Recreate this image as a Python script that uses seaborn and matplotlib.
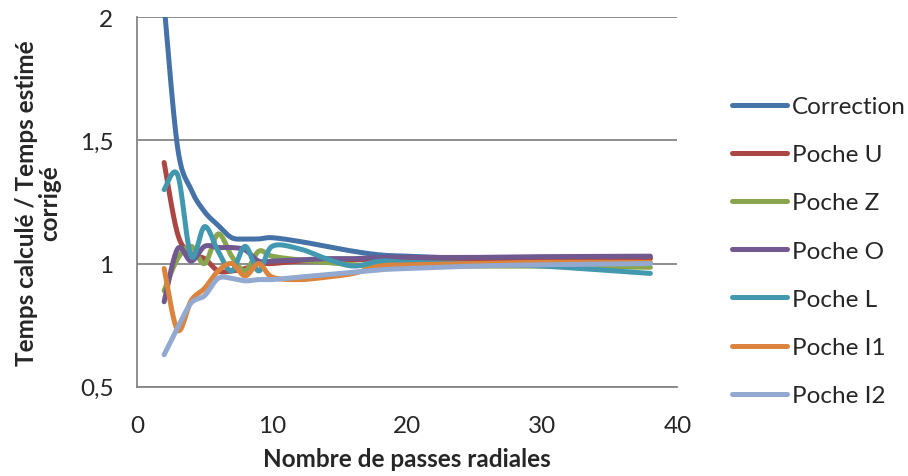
import numpy as np
import pandas as pd
import matplotlib
matplotlib.use("Agg")
import matplotlib.pyplot as plt
from matplotlib.ticker import MultipleLocator, FuncFormatter
import seaborn as sns

# --- Donnees ---
passes = [2, 3, 4, 5, 6, 7, 8, 9, 10, 12, 14, 16, 18, 20, 25, 30, 38]

correction = [2.05, 1.47, 1.30, 1.21, 1.155, 1.105, 1.10, 1.10, 1.105, 1.09, 1.07, 1.05, 1.035, 1.03, 1.02, 1.02, 1.025]
poche_u = [1.41, 1.12, 1.04, 1.02, 0.97, 0.97, 0.98, 1.0, 1.0, 1.01, 1.01, 1.015, 1.02, 1.02, 1.02, 1.02, 1.02]
poche_z = [0.89, 1.02, 1.07, 1.0, 1.12, 1.03, 0.97, 1.05, 1.03, 1.015, 1.005, 0.995, 0.99, 0.99, 0.99, 0.99, 0.985]
poche_o = [0.845, 1.06, 1.01, 1.07, 1.065, 1.065, 1.055, 1.01, 1.01, 1.015, 1.02, 1.02, 1.025, 1.025, 1.025, 1.028, 1.03]
poche_l = [1.30, 1.36, 1.03, 1.15, 1.05, 0.97, 1.07, 0.97, 1.07, 1.06, 1.02, 0.99, 1.01, 1.005, 1.0, 0.99, 0.96]
poche_i1 = [0.98, 0.73, 0.85, 0.90, 0.97, 1.0, 0.95, 1.0, 0.945, 0.935, 0.945, 0.96, 0.99, 0.995, 1.0, 1.005, 1.005]
poche_i2 = [0.63, 0.74, 0.84, 0.87, 0.94, 0.94, 0.93, 0.935, 0.935, 0.945, 0.955, 0.965, 0.975, 0.98, 0.99, 0.995, 1.0]

series = ["Correction", "Poche U", "Poche Z", "Poche O", "Poche L", "Poche I1", "Poche I2"]
valeurs = [correction, poche_u, poche_z, poche_o, poche_l, poche_i1, poche_i2]
couleurs = ["#4572A7", "#AA4643", "#89A54E", "#71588F", "#4198AF", "#DB843D", "#93A9CF"]


def lissage(x, y, n=25):
    """Courbe lissee facon Excel (Bezier / Catmull-Rom) passant par les points."""
    p = np.column_stack([x, y]).astype(float)
    p_ext = np.vstack([p[0], p, p[-1]])
    out = []
    for i in range(len(p) - 1):
        p0, p1, p2, p3 = p_ext[i], p_ext[i + 1], p_ext[i + 2], p_ext[i + 3]
        c1 = p1 + (p2 - p0) / 6
        c2 = p2 - (p3 - p1) / 6
        t = np.linspace(0, 1, n, endpoint=(i == len(p) - 2))[:, None]
        out.append((1 - t) ** 3 * p1 + 3 * (1 - t) ** 2 * t * c1 + 3 * (1 - t) * t ** 2 * c2 + t ** 3 * p2)
    return np.vstack(out)


frames = []
for nom, val in zip(series, valeurs):
    c = lissage(passes, val)
    frames.append(pd.DataFrame({"passes": c[:, 0], "ratio": c[:, 1], "serie": nom}))
df = pd.concat(frames, ignore_index=True)

sns.set_style("white")
plt.rcParams["font.family"] = ["Lato", "DejaVu Sans"]
fs = 17.5

fig = plt.figure(figsize=(9.08, 4.77), dpi=100)
ax = fig.add_axes([0.151, 0.187, 0.595, 0.775])

sns.lineplot(data=df, x="passes", y="ratio", hue="serie", hue_order=series,
             palette=couleurs, sort=False, estimator=None, linewidth=3.6,
             ax=ax, zorder=3)

ax.set_xlim(0, 40)
ax.set_ylim(0.5, 2)
ax.xaxis.set_major_locator(MultipleLocator(10))
ax.yaxis.set_major_locator(MultipleLocator(0.5))
ax.yaxis.set_minor_locator(MultipleLocator(0.1))
ax.yaxis.set_major_formatter(FuncFormatter(lambda v, p: f"{v:g}".replace(".", ",")))

gris = "#868686"
ax.grid(axis="y", which="major", color=gris, linewidth=1.3)
ax.set_axisbelow(True)
for s in ["top", "right"]:
    ax.spines[s].set_visible(False)
for s in ["left", "bottom"]:
    ax.spines[s].set_color(gris)
    ax.spines[s].set_linewidth(1.3)

ax.tick_params(axis="y", which="major", direction="out", length=6, width=1.3, color=gris, pad=11, labelsize=fs)
ax.tick_params(axis="y", which="minor", direction="inout", length=5, width=1.3, color=gris)
ax.tick_params(axis="x", length=0, pad=20, labelsize=fs)

ax.set_xlabel("Nombre de passes radiales", fontweight="bold", fontsize=fs, labelpad=8)
ax.set_ylabel("Temps calculé / Temps estimé\ncorrigé", fontweight="bold", fontsize=fs,
              multialignment="center", linespacing=1.0, ha="center", va="center")
ax.yaxis.set_label_coords(-0.183, 0.5)

leg = ax.legend(loc="upper left", bbox_to_anchor=(732 / 908, 1 - 97 / 477),
                bbox_transform=fig.transFigure, frameon=False, borderpad=0, borderaxespad=0,
                handlelength=2.26, handletextpad=0.2, labelspacing=1.12, fontsize=fs)
for h in leg.get_lines():
    h.set_linewidth(3.6)

fig.savefig("out.png", dpi=100)
